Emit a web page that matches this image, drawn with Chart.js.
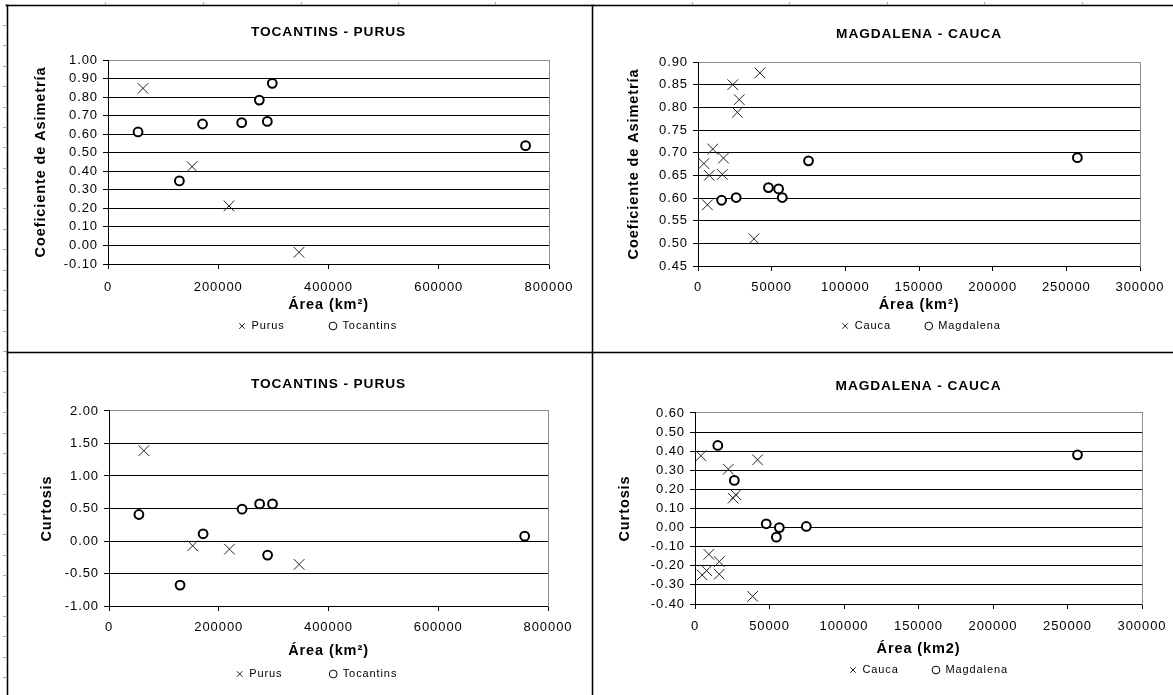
<!DOCTYPE html>
<html><head><meta charset="utf-8">
<script src="https://cdn.jsdelivr.net/npm/chart.js@4.4.1/dist/chart.umd.min.js"></script>
<style>
html,body{margin:0;padding:0;background:#fff;overflow:hidden;width:1173px;height:695px;position:relative}
canvas{position:absolute}
.ln{position:absolute;background:#000;box-shadow:0 0 0 1px rgba(0,0,0,0.28)}
.tk{position:absolute;background:#aaa}
</style></head><body>
<canvas id="cTL"></canvas><canvas id="cTR"></canvas><canvas id="cBL"></canvas><canvas id="cBR"></canvas>
<script>
// ---------- data ----------
const purusArea     = [63500, 152500, 219500, 346500];
const purusAsim     = [0.847, 0.425, 0.213, -0.037];
const purusCurt     = [1.39, -0.074, -0.125, -0.36];
const tocantinsArea = [54500, 129500, 171500, 242500, 274500, 289000, 298000, 757500];
const tocantinsAsim = [0.612, 0.348, 0.655, 0.662, 0.784, 0.669, 0.874, 0.538];
const tocantinsCurt = [0.408, -0.678, 0.111, 0.49, 0.571, -0.217, 0.571, 0.075];

const caucaAreaA    = [4000, 7600, 10000, 6400, 16500, 17300, 23600, 28000, 26700, 42000, 38000];
const caucaAsim     = [0.676, 0.65, 0.708, 0.585, 0.652, 0.688, 0.85, 0.817, 0.789, 0.876, 0.51];
const magdaAreaA    = [16000, 25900, 47800, 54700, 57200, 75000, 257500];
const magdaAsim     = [0.595, 0.601, 0.623, 0.62, 0.601, 0.682, 0.689];

const caucaAreaK    = [4000, 22400, 42000, 25600, 27400, 9300, 16300, 7800, 4800, 16300, 38700];
const caucaCurt     = [0.376, 0.306, 0.355, 0.154, 0.172, -0.14, -0.178, -0.225, -0.248, -0.244, -0.36];
const magdaAreaK    = [15300, 26400, 47800, 56600, 54600, 74700, 256700];
const magdaCurt     = [0.43, 0.247, 0.02, 0.0, -0.05, 0.006, 0.381];

// ---------- tick labels ----------
const xTicksTP   = ['0','200000','400000','600000','800000'];
const xTicksMC   = ['0','50000','100000','150000','200000','250000','300000'];
const yAsimTP    = ['-0.10','0.00','0.10','0.20','0.30','0.40','0.50','0.60','0.70','0.80','0.90','1.00'];
const yAsimMC    = ['0.45','0.50','0.55','0.60','0.65','0.70','0.75','0.80','0.85','0.90'];
const yCurtTP    = ['-1.00','-0.50','0.00','0.50','1.00','1.50','2.00'];
const yCurtMC    = ['-0.40','-0.30','-0.20','-0.10','0.00','0.10','0.20','0.30','0.40','0.50','0.60'];

// ---------- decorations (sheet borders / ruler marks) ----------
function div(cls, l, t, w, h){ const d=document.createElement('div'); d.className=cls; d.style.cssText=`left:${l}px;top:${t}px;width:${w}px;height:${h}px`; document.body.appendChild(d); }
div('ln', 6, 5, 1167, 1);
div('ln', 7, 5, 1, 690);
div('ln', 592, 5, 1, 690);
div('ln', 7, 352, 1166, 1);
[105,203,301,398,495,692,789,887,984,1082].forEach(x=>div('tk', x, 2, 1, 3));
for(let k=0;k<33;k++) div('tk', 3, Math.round(25+20.375*k), 3, 1);

// ---------- chart helpers ----------
const FONT = '"Liberation Sans", Arial, sans-serif';
const LS = 0.9;
Chart.defaults.font.family = FONT;
Chart.defaults.color = '#000';
const mctx = document.createElement('canvas').getContext('2d');
function tw(t, size){ mctx.font = `${size}px ${FONT}`; mctx.letterSpacing = LS+'px'; return mctx.measureText(t).width; }
const pts = (xs, ys) => xs.map((x,i)=>({x, y: ys[i]}));

function panel(id, p){
  const tickFS=13, titleFS=13.7, axFS=14.5, lgFS=11, tl=5, boxW=8, boxH=5.5;
  const lhT=titleFS*1.2, lhA=axFS*1.2, lhK=tickFS*1.2;
  const item1 = boxW + lgFS/2 + tw(p.names[0], lgFS);
  const item2 = boxW + lgFS/2 + tw(p.names[1], lgFS);
  const gap = p.mk[1] - p.mk[0] - item1;
  const lcx = (p.mk[0] - boxW/2 + p.mk[1] - boxW/2 + item2)/2;
  const cx = p.cx, cy = p.cy;
  const cw = Math.round(2*(lcx - cx));
  const legendH = lgFS + gap + 10;
  const ch = Math.round(p.xTitleY + lhA/2 + 1 + legendH - cy);
  const xBottom = cy + ch - legendH;               // page y of x-scale box bottom
  const legendTarget = p.legendY - gap - lgFS/2 - cy; // chart-local legend top
  const cv = document.getElementById(id);
  cv.width = cw; cv.height = ch; cv.style.left = cx+'px'; cv.style.top = cy+'px';
  const xv = p.xLabels.map(Number), yv = p.yLabels.map(Number);
  const ymax = yv[yv.length-1];
  const fix = { id:'fix',
    beforeLayout(c){ c.ctx.letterSpacing = LS+'px'; },
    afterLayout(c){ const lg=c.legend; const dy = legendTarget - lg.top; lg.top += dy; lg.bottom += dy; },
    beforeDraw(c){ c.ctx.letterSpacing = LS+'px'; } };
  new Chart(cv, {
    type:'scatter',
    data:{ datasets:[
      { label:p.names[0], data:p.d0, pointStyle:'crossRot', pointRadius:7.5, pointHoverRadius:7.5,
        pointBorderWidth:1, borderColor:'#222', backgroundColor:'#222' },
      { label:p.names[1], data:p.d1, pointStyle:'circle', pointRadius:4.4, pointHoverRadius:4.4,
        pointBorderWidth:2, borderColor:'#000', backgroundColor:'#fff' }
    ]},
    options:{
      responsive:false, animation:false, events:[],
      layout:{ padding:0 },
      scales:{
        x:{ type:'linear', position:'bottom', min:xv[0], max:xv[xv.length-1],
          afterBuildTicks:s=>{ s.ticks = xv.map(v=>({value:v})); },
          afterFit:s=>{ s.height = xBottom - p.B; },
          grid:{ display:true, drawOnChartArea:false, drawTicks:true, tickLength:tl, color:'#000', tickColor:'#000' },
          border:{ display:true, color:'#000', width:1 },
          ticks:{ padding: p.xTickY - p.B - tl - lhK/2, font:{size:tickFS}, color:'#000', maxRotation:0, autoSkip:false,
            callback:(v,i)=>p.xLabels[i] },
          title:{ display:true, text:p.xTitle, color:'#000', font:{size:axFS, weight:'bold'},
            padding:{ top:0, bottom: xBottom - p.xTitleY - lhA/2 } }
        },
        y:{ type:'linear', position:'left', min:yv[0], max:ymax,
          afterBuildTicks:s=>{ s.ticks = yv.map(v=>({value:v})); },
          afterFit:s=>{ s.width = p.L - cx; },
          grid:{ drawTicks:true, tickLength:tl, tickColor:'#000',
            color:c=> (c.tick && c.tick.value === ymax) ? '#8c8c8c' : '#000' },
          border:{ display:true, color:'#000', width:1 },
          ticks:{ padding:5, font:{size:tickFS}, color:'#000', autoSkip:false, callback:(v,i)=>p.yLabels[i] },
          title:{ display:true, text:p.yTitle, color:'#000', font:{size:axFS, weight:'bold'},
            padding:{ top: p.yTitleX - cx - lhA/2, bottom:0 } }
        },
        yR:{ type:'linear', position:'right', display:true,
          grid:{ display:false }, ticks:{ display:false },
          border:{ display:true, color:'#8c8c8c', width:1 },
          afterFit:s=>{ s.width = cx + cw - p.R; } }
      },
      plugins:{
        title:{ display:true, text:p.title, fullSize:false, color:'#000', font:{size:titleFS, weight:'bold'},
          padding:{ top: p.titleY - lhT/2 - cy, bottom: p.T - p.titleY - lhT/2 } },
        legend:{ position:'bottom', align:'center',
          labels:{ usePointStyle:true, boxWidth:boxW, boxHeight:boxH, padding:gap, color:'#000', font:{size:lgFS},
            generateLabels:c=>Chart.defaults.plugins.legend.labels.generateLabels(c).map(l=>Object.assign(l,{lineWidth:1})) } },
        tooltip:{ enabled:false }
      }
    },
    plugins:[fix]
  });
}

panel('cTL', { cx:20, cy:10, L:108, R:549, T:60, B:264, titleY:32, xTitleY:305, legendY:326, yTitleX:41, xTickY:287,
  mk:[242,333], names:['Purus','Tocantins'], title:'TOCANTINS - PURUS', xTitle:'Área (km²)', yTitle:'Coeficiente de Asimetría',
  xLabels:xTicksTP, yLabels:yAsimTP, d0:pts(purusArea,purusAsim), d1:pts(tocantinsArea,tocantinsAsim) });
panel('cTR', { cx:620, cy:10, L:698, R:1140, T:62, B:266, titleY:34, xTitleY:305, legendY:326, yTitleX:634, xTickY:287,
  mk:[845,928.6], names:['Cauca','Magdalena'], title:'MAGDALENA - CAUCA', xTitle:'Área (km²)', yTitle:'Coeficiente de Asimetría',
  xLabels:xTicksMC, yLabels:yAsimMC, d0:pts(caucaAreaA,caucaAsim), d1:pts(magdaAreaA,magdaAsim) });
panel('cBL', { cx:25, cy:360, L:109, R:548, T:411, B:606, titleY:384, xTitleY:651, legendY:674, yTitleX:47, xTickY:627,
  mk:[239.5,333], names:['Purus','Tocantins'], title:'TOCANTINS - PURUS', xTitle:'Área (km²)', yTitle:'Curtosis',
  xLabels:xTicksTP, yLabels:yCurtTP, d0:pts(purusArea,purusCurt), d1:pts(tocantinsArea,tocantinsCurt) });
panel('cBR', { cx:610, cy:360, L:695, R:1142, T:413, B:604, titleY:386, xTitleY:649, legendY:670, yTitleX:625, xTickY:626,
  mk:[853,936], names:['Cauca','Magdalena'], title:'MAGDALENA - CAUCA', xTitle:'Área (km2)', yTitle:'Curtosis',
  xLabels:xTicksMC, yLabels:yCurtMC, d0:pts(caucaAreaK,caucaCurt), d1:pts(magdaAreaK,magdaCurt) });
</script>
</body></html>
